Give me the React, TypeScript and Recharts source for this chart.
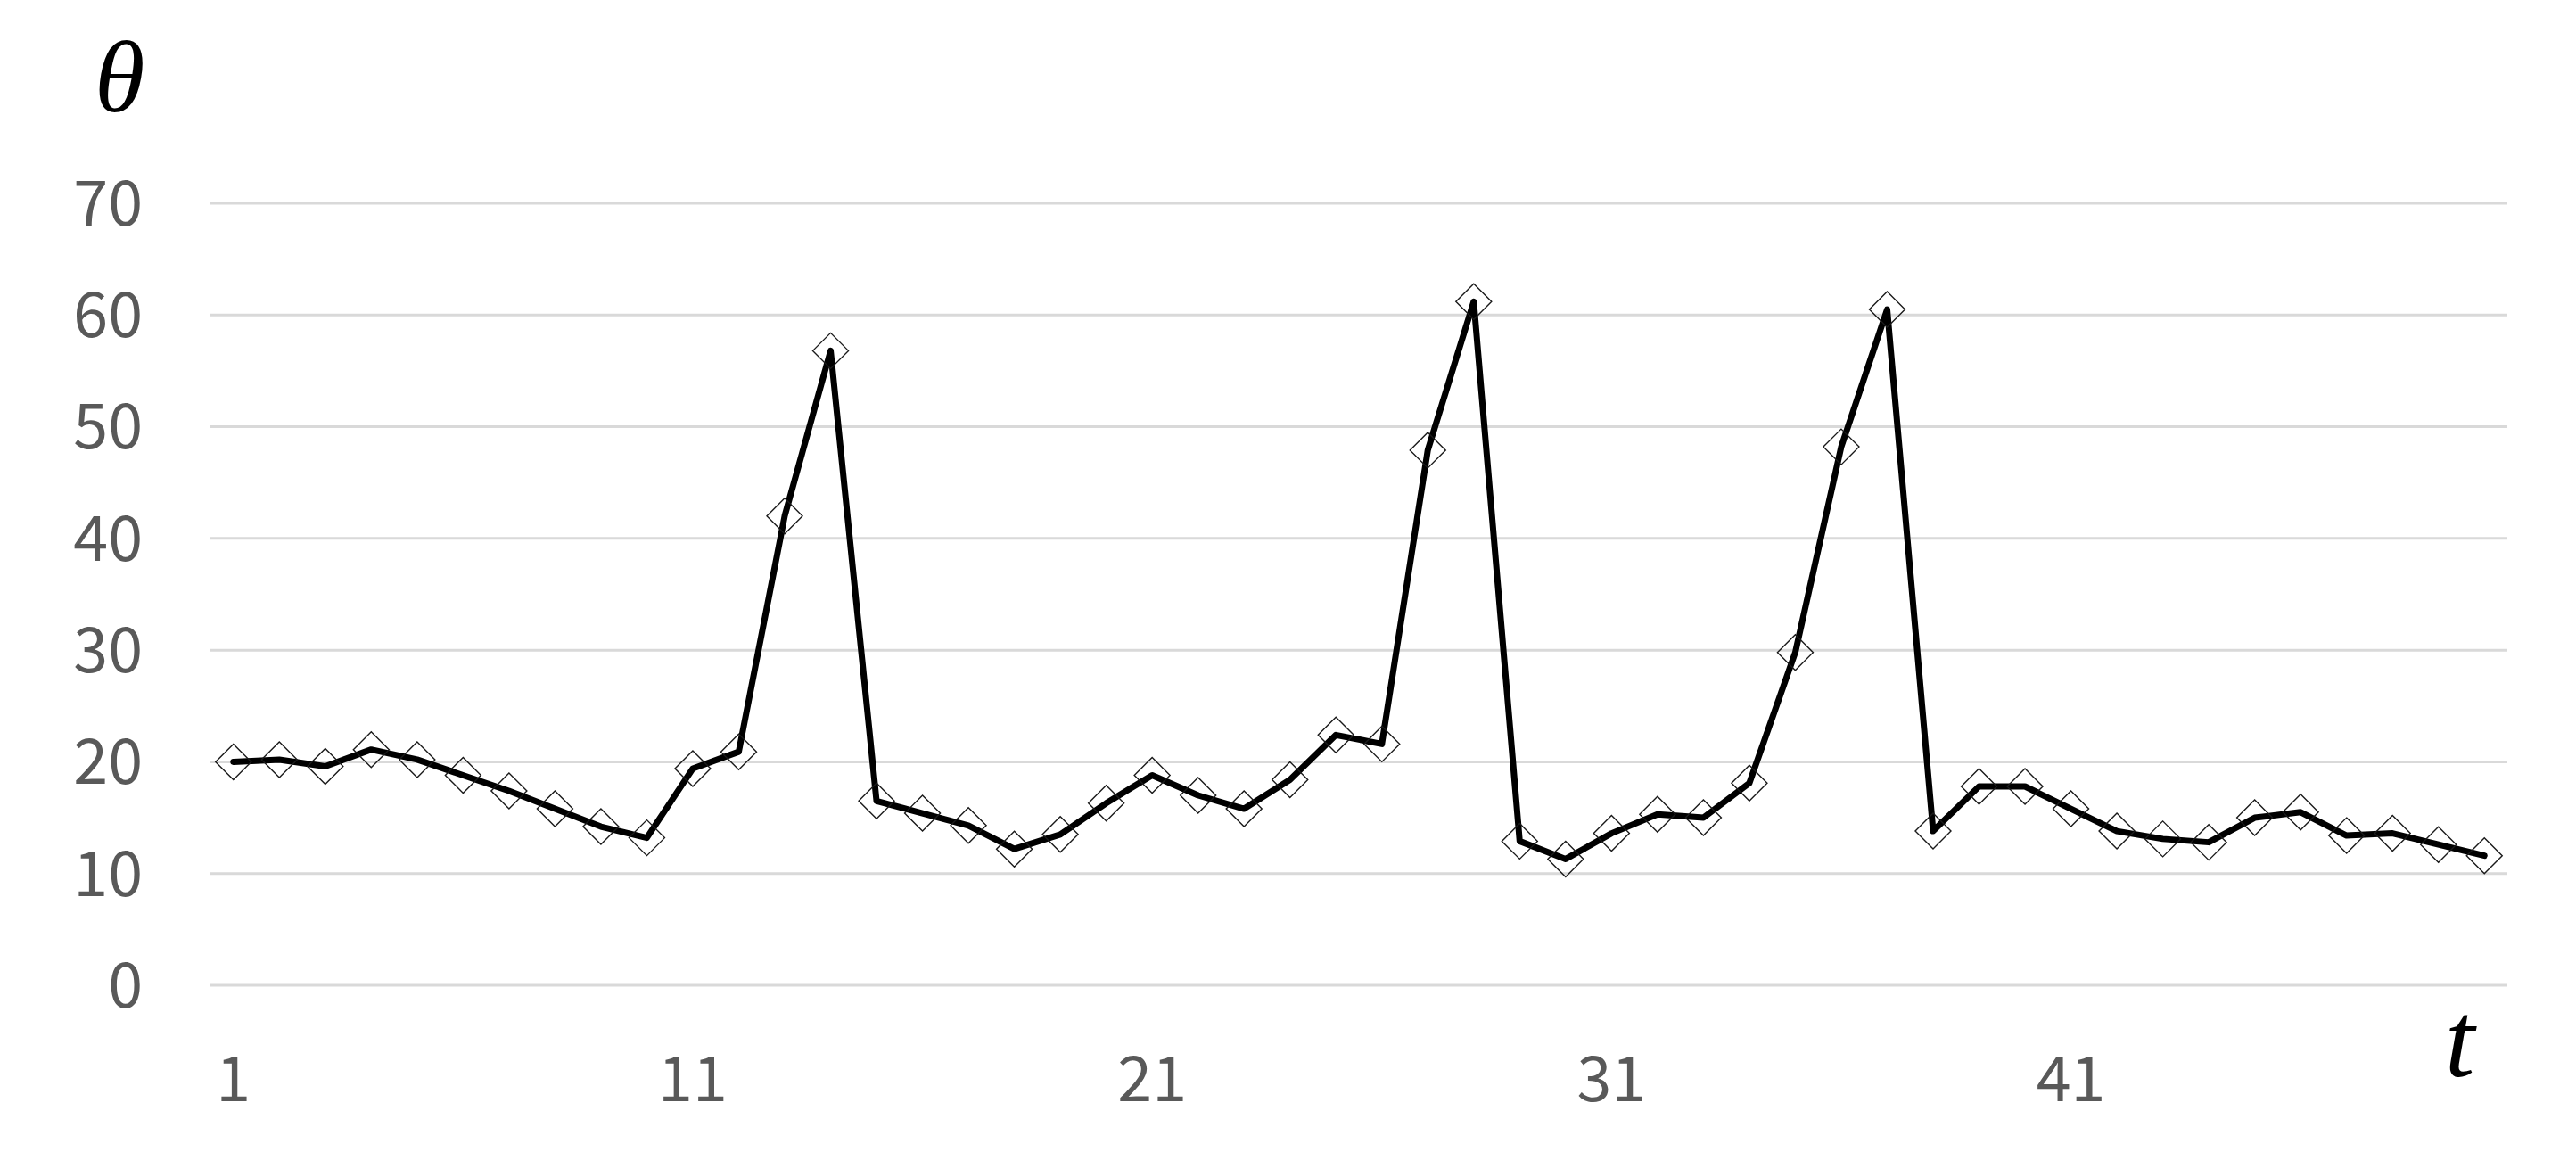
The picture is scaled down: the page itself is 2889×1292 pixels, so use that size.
import { LineChart, Line, XAxis, YAxis, CartesianGrid } from 'recharts'

const steps = [
  1, 2, 3, 4, 5, 6, 7, 8, 9, 10, 11, 12, 13, 14, 15, 16, 17, 18, 19, 20, 21, 22, 23, 24, 25,
  26, 27, 28, 29, 30, 31, 32, 33, 34, 35, 36, 37, 38, 39, 40, 41, 42, 43, 44, 45, 46, 47, 48,
  49, 50,
]

const theta = [
  20.0, 20.2, 19.6, 21.1, 20.2, 18.8, 17.4, 15.8, 14.2, 13.2,
  19.4, 20.9, 42.0, 56.8, 16.5, 15.4, 14.3, 12.2, 13.5, 16.3,
  18.8, 17.0, 15.8, 18.4, 22.4, 21.6, 47.9, 61.2, 12.9, 11.3,
  13.6, 15.3, 15.0, 18.1, 29.8, 48.2, 60.5, 13.8, 17.8, 17.8,
  15.8, 13.8, 13.1, 12.8, 15.0, 15.5, 13.4, 13.6, 12.6, 11.6,
]

const yTicks = [0, 10, 20, 30, 40, 50, 60, 70]

const data = steps.map((t, i) => ({ t, theta: theta[i] }))

const W = 2889
const H = 1292
const tickStyle = { fill: '#595959', fontSize: 70, fontFamily: '"Noto Sans CJK KR", "Noto Sans", sans-serif' }

// hollow diamond marker, like the spreadsheet original
function Diamond({ cx, cy }: { cx?: number; cy?: number }) {
  if (cx == null || cy == null) return null
  return (
    <polygon
      points={`${cx},${cy - 20} ${cx + 20},${cy} ${cx},${cy + 20} ${cx - 20},${cy}`}
      fill="none"
      stroke="#1a1a1a"
      strokeWidth={1.4}
    />
  )
}

export default function App() {
  return (
    <div style={{ position: 'absolute', left: 0, top: 0, width: W, height: H, background: '#fff' }}>
      <LineChart width={W} height={H} data={data} margin={{ top: 228, right: 77, bottom: 0, left: 0 }}>
        <CartesianGrid vertical={false} stroke="#d9d9d9" strokeWidth={3} />
        <XAxis
          dataKey="t"
          interval={9}
          height={187}
          axisLine={false}
          tickLine={false}
          tickSize={0}
          tickMargin={80}
          padding={{ left: 25.76, right: 25.76 }}
          tick={tickStyle}
        />
        <YAxis
          width={236}
          domain={[0, 70]}
          ticks={yTicks}
          axisLine={false}
          tickLine={false}
          tickSize={0}
          tickMargin={76}
          tick={tickStyle}
        />
        <Line
          type="linear"
          dataKey="theta"
          stroke="#000"
          strokeWidth={7}
          strokeLinejoin="round"
          strokeLinecap="round"
          dot={<Diamond />}
          activeDot={false}
          isAnimationActive={false}
        />
      </LineChart>
      <svg
        width={W}
        height={H}
        style={{ position: 'absolute', left: 0, top: 0, pointerEvents: 'none' }}
      >
        <text x={106} y={125} fontFamily='"Liberation Serif", serif' fontStyle="italic" fontSize={115} fill="#000">
          θ
        </text>
        <text x={2742} y={1207} fontFamily='"Liberation Serif", serif' fontStyle="italic" fontSize={120} fill="#000">
          t
        </text>
      </svg>
    </div>
  )
}
